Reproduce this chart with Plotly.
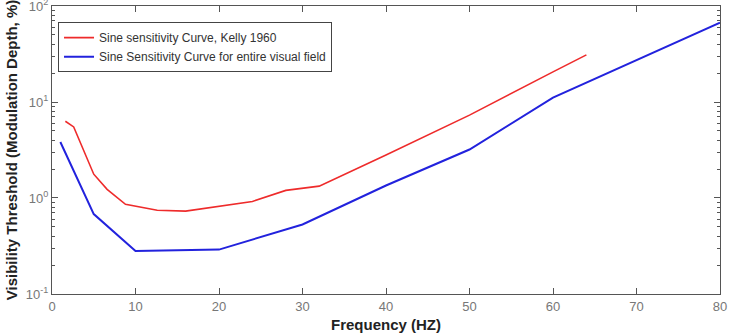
import plotly.graph_objects as go

# Kelly 1960 sine sensitivity curve
kelly_freq = [1.6, 2.6, 5.0, 6.6, 8.8, 10.5, 12.6, 16.0, 19.5, 24.0, 28.0, 32.0, 40.0, 50.0, 60.0, 64.0]
kelly_thr = [6.3, 5.5, 1.77, 1.23, 0.86, 0.81, 0.745, 0.73, 0.81, 0.92, 1.2, 1.33, 2.8, 7.3, 20.6, 31.0]

# Sine sensitivity curve for entire visual field
field_freq = [1.0, 5.0, 10.0, 15.0, 20.0, 30.0, 40.0, 50.0, 60.0, 80.0]
field_thr = [3.83, 0.68, 0.28, 0.285, 0.29, 0.53, 1.35, 3.2, 11.1, 67.0]

x_ticks = [0, 10, 20, 30, 40, 50, 60, 70, 80]
y_ticks = [0.1, 1, 10, 100]
y_ticktext = ["10<sup>-1</sup>", "10<sup>0</sup>", "10<sup>1</sup>", "10<sup>2</sup>"]
y_minor = [m * d for d in (0.1, 1, 10) for m in range(2, 10)]

fig = go.Figure()
fig.add_trace(go.Scatter(x=kelly_freq, y=kelly_thr, mode="lines",
                         line=dict(color="#ee2b2b", width=1.6),
                         name="Sine sensitivity Curve, Kelly 1960"))
fig.add_trace(go.Scatter(x=field_freq, y=field_thr, mode="lines",
                         line=dict(color="#2222dd", width=2),
                         name="Sine Sensitivity Curve for entire visual field"))

axis_common = dict(showgrid=False, zeroline=False, showline=True, linecolor="#555555",
                   linewidth=1, ticks="inside", mirror="allticks", tickcolor="#555555",
                   ticklabeloverflow="allow", automargin=False,
                   tickfont=dict(family="Liberation Sans, Arial", size=13, color="#777777"))

fig.update_xaxes(range=[0, 80], tickvals=x_ticks, ticklen=6,
                 title=dict(text="<b>Frequency (HZ)</b>", standoff=6,
                            font=dict(family="Liberation Sans, Arial", size=15, color="#222222")),
                 **axis_common)
fig.update_yaxes(type="log", range=[-1.0002, 2.0002], tickvals=y_ticks, ticktext=y_ticktext, ticklen=6,
                 minor=dict(ticks="inside", ticklen=3, tickmode="array", tickvals=y_minor,
                            tickcolor="#555555"),
                 title=dict(text="<b>Visibility Threshold (Modulation Depth, %)</b>", standoff=4,
                            font=dict(family="Liberation Sans, Arial", size=15, color="#222222")),
                 **axis_common)

fig.update_layout(
    width=731, height=336,
    margin=dict(l=52, r=11, t=6, b=42),
    paper_bgcolor="white", plot_bgcolor="white",
    showlegend=True,
    legend=dict(x=0.009, y=0.944, xanchor="left", yanchor="top",
                bgcolor="white", bordercolor="#444444", borderwidth=1,
                font=dict(family="Liberation Sans, Arial", size=12, color="#333333"),
                tracegroupgap=0, itemwidth=30),
)

fig.write_html("out.html")
